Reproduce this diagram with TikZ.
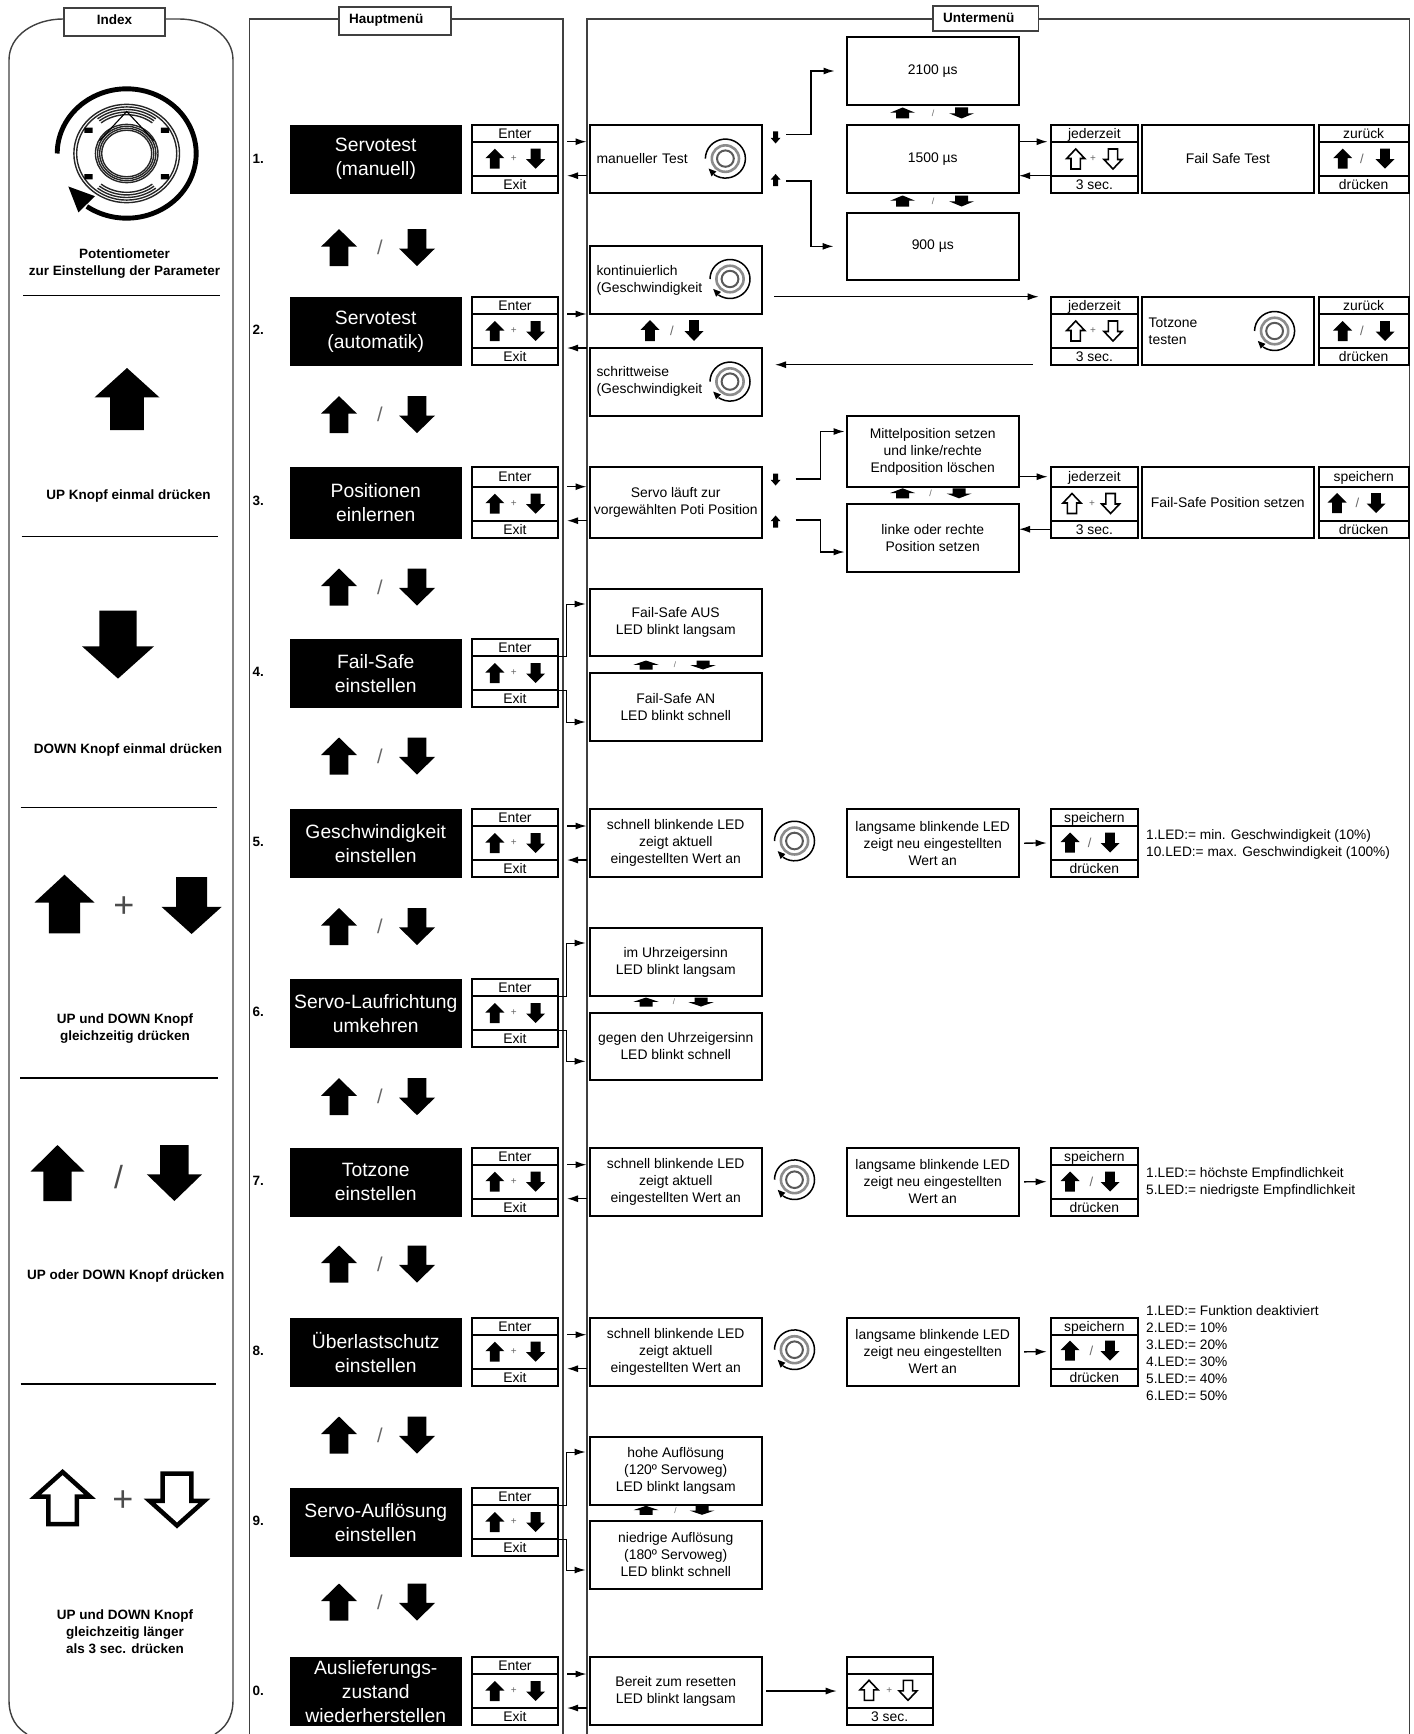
\documentclass[tikz,border=0pt]{standalone}
\usepackage{fontspec}
\setmainfont{Liberation Sans}
\usetikzlibrary{arrows.meta,positioning}

\tikzset{
	panel/.style={line width=1.4pt,draw=black!75},
	header/.style={draw=black!75,line width=1.4pt,fill=white,inner sep=0pt,outer sep=0pt,anchor=north west,font=\bfseries\fontsize{13.5}{16}\selectfont},
	idxtext/.style={align=center,inner sep=0pt,font=\bfseries\fontsize{13.5}{17}\selectfont},
	menubox/.style={fill=black,text=white,align=center,inner sep=0pt,outer sep=0pt,anchor=north west,minimum width=171.5pt,font=\fontsize{19.3}{24}\selectfont},
	numlabel/.style={anchor=west,inner sep=0pt,font=\bfseries\fontsize{13.5}{15}\selectfont},
	cell/.style={draw,line width=2pt,fill=white,inner sep=0pt,outer sep=0pt,anchor=north west,text height=10pt,text depth=0pt,font=\fontsize{13.9}{17}\selectfont},
	subbox/.style 2 args={draw,line width=2pt,fill=white,inner sep=0pt,outer sep=0pt,align=center,anchor=north west,minimum width=#1pt,minimum height=#2pt,font=\fontsize{13.9}{17}\selectfont},
	subleft/.style 2 args={subbox={#1}{#2},align=left,inner xsep=7pt,text width=#1pt-14pt},
	note/.style={anchor=west,align=left,inner sep=0pt,font=\fontsize{13.7}{17}\selectfont},
	conn/.style={line width=1.3pt,-{Latex[length=11pt,width=7pt]}},
	keyfill/.style={fill=black},
	keyline/.style={draw=black,fill=white,line width=1.6pt,line join=miter},
	sep/.style={line width=1.4pt},
}

\newcount\symno
\newcommand{\upkey}[5]{\path[#5,shift={(#1,#2)},xscale=#3,yscale=#4] (0,-1) -- (1,-.05) -- (.52,-.05) -- (.52,1) -- (-.52,1) -- (-.52,-.05) -- (-1,-.05) -- cycle;}
\newcommand{\downkey}[5]{\path[#5,shift={(#1,#2)},xscale=#3,yscale=#4] (0,1) -- (1,.05) -- (.52,.05) -- (.52,-1) -- (-.52,-1) -- (-.52,.05) -- (-1,.05) -- cycle;}
% x up, x sign, x down, y, half width, half height, style, sign, sign size
\newcommand{\keypair}[9]{%
	\upkey{#1}{#4}{#5}{#6}{#7}
	\downkey{#3}{#4}{#5}{#6}{#7}
	\global\advance\symno by 1
	\node[inner sep=0pt,text=black!60,font=\fontsize{#9}{#9}\selectfont] (sign\the\symno) at (#2,#4) {#8};
}
\newcommand{\potibig}[4]{%
	\begin{scope}[shift={(#1,#2)},xscale=#3,yscale=#4]
		\draw[line width=#3*.07pt] plot[smooth,domain=180:485,samples=50] ({cos(\x)},{sin(\x)});
		\fill (-.84,.51) -- (-.695,.91) -- (-.456,.66) -- cycle;
		\foreach \r in {.76,.72,.45,.42,.39,.36}{
			\draw[line width=#3*.02pt,black!85] (0,0) circle[radius=\r];
		}
		\foreach \r in {.68,.64,.60}{
			\draw[line width=#3*.02pt,black!85] plot[smooth,domain=232:308,samples=12] ({\r*cos(\x)},{\r*sin(\x)});
			\draw[line width=#3*.02pt,black!85] plot[smooth,domain=52:128,samples=12] ({\r*cos(\x)},{\r*sin(\x)});
		}
		\draw[line width=#3*.016pt] (-.39,-.2) -- (0,-.65) -- (.39,-.2);
		\fill (-.61,-.40) rectangle (-.49,-.32) (.49,-.40) rectangle (.61,-.32);
		\fill (-.61,.32) rectangle (-.49,.40) (.49,.32) rectangle (.61,.40);
	\end{scope}
}
\newcommand{\poti}[4]{%
	\begin{scope}[shift={(#1,#2)},xscale=#3,yscale=#4]
		\draw[line width=1.5pt] plot[smooth,domain=180:485,samples=30] ({cos(\x)},{sin(\x)});
		\fill (-.84,.51) -- (-.695,.91) -- (-.456,.66) -- cycle;
		\draw[line width=2.6pt,black!45] (0,0) circle[radius=.68];
		\draw[line width=2pt,black!65] (0,0) circle[radius=.42];
	\end{scope}
}
% [width] name, x, y, first cell height, top text, bottom text
\newcommand{\btnbox}[7][86]{%
	\node[cell,minimum width=#1pt,minimum height=#5pt] (#2t) at (#3,#4) {#6};
	\node[cell,minimum width=#1pt,minimum height=34pt] (#2m) at (#2t.south west) {};
	\node[cell,minimum width=#1pt,minimum height=17pt] (#2b) at (#2m.south west) {#7};
}
\newcommand{\linkpair}[3]{%
	\draw[conn] ([xshift=9pt]#1t.south east) -- ([xshift=-3pt]#2.west |- #1t.south east);
	\draw[conn] ([xshift=-3pt]#3.west |- #1m.south east) -- ([xshift=9pt]#1m.south east);
}
\newcommand{\elbow}[3]{%
	\draw[conn,line width=1pt] (#1t.south east) -- ++(8.5,0) |- ([xshift=-4pt,yshift=-15pt]#2.north west);
	\draw[conn,line width=1pt] (#1m.south east) -- ++(8.5,0) |- ([xshift=-4pt,yshift=19pt]#3.south west);
}

\begin{document}
\begin{tikzpicture}[x=1pt,y=-1pt]
\useasboundingbox (0,0) rectangle (1413,1734);

\draw[panel] (27,1734) .. controls (17,1728) and (9,1718) .. (9,1700) -- (9,60) .. controls (9,35) and (35,19) .. (63,19) -- (179,19) .. controls (207,19) and (233,35) .. (233,60) -- (233,1700) .. controls (233,1718) and (225,1728) .. (215,1734);
\draw[panel] (249.5,1734) -- (249.5,19) -- (563,19) -- (563,1734);
\draw[panel] (587,1734) -- (587,19) -- (1409.3,19) -- (1409.3,1734);

\node[header,minimum width=101pt,minimum height=28pt,align=center,text depth=5pt] (idxhead) at (64,8) {Index};
\node[header,minimum width=112pt,minimum height=28pt,align=left,inner xsep=10pt,text width=92pt,text depth=5pt] (mainhead) at (339,7) {Hauptmenü};
\node[header,minimum width=105.5pt,minimum height=25pt,align=left,inner xsep=10pt,text width=85.5pt,text depth=2pt] (subhead) at (933,6) {Untermenü};

\potibig{126.7}{153.5}{69.5}{64.7}
\node[idxtext] (idxpoti) at (124.5,264) {Potentiometer\\zur Einstellung der Parameter};
\draw[sep] (23,295.7) -- (219.5,295.7);
\upkey{127}{399}{32.5}{31}{keyfill}
\node[idxtext] (idxup) at (128.5,496) {UP Knopf einmal drücken};
\draw[sep] (21.5,536.3) -- (218,536.3);
\downkey{118}{644.6}{36}{34}{keyfill}
\node[idxtext] (idxdown) at (128,750) {DOWN Knopf einmal drücken};
\draw[sep] (20.5,807.3) -- (217,807.3);
\upkey{64.5}{904}{30}{29.3}{keyfill}
\downkey{191.6}{905.5}{30}{28.5}{keyfill}
\node[inner sep=0pt,text=black!70,font=\fontsize{36}{36}\selectfont] (idxplus) at (124,907) {+};
\node[idxtext] (idxboth) at (125,1029) {UP und DOWN Knopf\\gleichzeitig drücken};
\draw[sep] (20,1078) -- (218,1078);
\upkey{57.5}{1173}{27}{28}{keyfill}
\downkey{174.4}{1173}{27.5}{28}{keyfill}
\node[inner sep=0pt,text=black!70,font=\fontsize{32}{32}\selectfont] (idxslash) at (118.6,1177) {/};
\node[idxtext] (idxeither) at (125.7,1276) {UP oder DOWN Knopf drücken};
\draw[sep] (20.5,1384) -- (216,1384);
\upkey{62.6}{1498}{27.5}{26}{keyline,line width=4.5pt}
\downkey{177}{1499.5}{27.5}{26}{keyline,line width=4.5pt}
\node[inner sep=0pt,text=black!70,font=\fontsize{36}{36}\selectfont] (idxplusb) at (123,1501) {+};
\node[idxtext] (idxlong) at (125,1632) {UP und DOWN Knopf\\gleichzeitig länger\\als 3 sec. drücken};

\foreach \n/\ytop/\dd/\ynum/\txt in {
	1/124.7/17/158.5/{Servotest\\(manuell)},
	2/297/17/330/{Servotest\\(automatik)},
	3/466.7/20/501/{Positionen\\einlernen},
	4/638.7/17.3/672/{Fail-Safe\\einstellen},
	5/809/17/842/{Geschwindigkeit\\einstellen},
	6/978.7/17.3/1012/{Servo-Laufrichtung\\umkehren},
	7/1147.7/17/1181/{Totzone\\einstellen},
	8/1317.7/17/1351/{Überlastschutz\\einstellen},
	9/1488/17/1520.5/{Servo-Auflösung\\einstellen},
	0/1657/17/1690.5/{Auslieferungs-\\zustand\\wiederherstellen}}{
	\node[menubox,minimum height=52pt+\dd pt] (main\n) at (290,\ytop) {\txt};
	\node[numlabel] (num\n) at (252.5,\ynum) {\n.};
	\btnbox{btn\n}{472}{\ytop}{\dd}{Enter}{Exit}
	\keypair{494.8}{513.7}{535.6}{\ytop+\dd+17}{9.5}{10}{keyfill}{+}{10}
}

\foreach \y in {247.6,414.6,587,756,926.5,1096.7,1264,1435,1602}{
	\keypair{339}{380}{417}{\y}{18}{18.5}{keyfill}{/}{20}
}

\btnbox[87.3]{jed1}{1050.7}{124.7}{17}{jederzeit}{3 sec.}
\btnbox[90]{zur1}{1318.7}{124.7}{17}{zurück}{drücken}
\btnbox[87.3]{jed2}{1050.7}{296.7}{17}{jederzeit}{3 sec.}
\btnbox[90]{zur2}{1318.7}{296.7}{17}{zurück}{drücken}
\btnbox[87.3]{jed3}{1050.7}{466.7}{20}{jederzeit}{3 sec.}
\btnbox[90]{spe3}{1318.7}{466.7}{20}{speichern}{drücken}
\keypair{1075.7}{1093}{1113}{159}{9}{10}{keyline}{+}{10}
\keypair{1342.7}{1362}{1385}{158.7}{9.5}{10}{keyfill}{/}{13}
\keypair{1075.7}{1093}{1113}{331}{9}{10}{keyline}{+}{10}
\keypair{1342.7}{1362}{1385}{331}{9.5}{10}{keyfill}{/}{13}
\keypair{1072}{1092}{1110.6}{503.5}{9}{10}{keyline}{+}{10}
\keypair{1337}{1357.5}{1376}{503}{9.5}{10}{keyfill}{/}{13}

\node[subleft={172.5}{68.3}] (test) at (589.5,124.7) {manueller Test};
\poti{725.4}{158.6}{20}{19.5}
\node[subbox={172.5}{68.6}] (s2100) at (846.5,36.7) {2100 µs};
\node[subbox={172.5}{68.3}] (s1500) at (846.5,124.7) {1500 µs};
\node[subbox={172.5}{67.3}] (s900) at (846.5,212.7) {900 µs};
\keypair{902.6}{933}{961.6}{113}{12.5}{5.5}{keyfill}{/}{9}
\keypair{902.6}{933}{961.6}{201}{12.5}{5.5}{keyfill}{/}{9}
\node[subbox={172.3}{68.3}] (failtest) at (1141.7,124.7) {Fail Safe Test};
\downkey{775.6}{137.5}{5}{6}{keyfill}
\upkey{775.6}{180}{5}{6}{keyfill}

\node[subleft={172.5}{68.6}] (kont) at (589.5,245.7) {kontinuierlich\\(Geschwindigkeit};
\node[subleft={172.5}{68.3}] (schritt) at (589.5,347.7) {schrittweise\\(Geschwindigkeit};
\poti{730}{279}{20}{19.5}
\poti{730}{381.6}{20}{19.5}
\keypair{650}{672}{694}{330.5}{9.5}{10.5}{keyfill}{/}{13}
\node[subleft={172.3}{68.3}] (tot) at (1141.7,296.7) {Totzone\\testen};
\poti{1274.6}{331}{20}{19.5}

\node[subbox={172.5}{71.3}] (lauf) at (589.5,466.7) {Servo läuft zur\\vorgewählten Poti Position};
\node[subbox={172.5}{71.6}] (mitte) at (846.5,415.7) {Mittelposition setzen\\und linke/rechte\\Endposition löschen};
\node[subbox={172.5}{68}] (seite) at (846.5,504) {linke oder rechte\\Position setzen};
\keypair{902.6}{930.6}{959}{493.3}{12.5}{5}{keyfill}{/}{9}
\node[subbox={172.3}{71.3}] (failpos) at (1141.7,466.7) {Fail-Safe Position setzen};
\downkey{775.6}{479.5}{5}{6}{keyfill}
\upkey{775.6}{521.5}{5}{6}{keyfill}

\node[subbox={172.5}{67}] (fsaus) at (589.5,589) {Fail-Safe AUS\\LED blinkt langsam};
\node[subbox={172.5}{68}] (fsan) at (589.5,673) {Fail-Safe AN\\LED blinkt schnell};
\keypair{646}{675}{703}{665}{12.5}{4.5}{keyfill}{/}{8}

\node[subbox={172.5}{68}] (uhr) at (589.5,928) {im Uhrzeigersinn\\LED blinkt langsam};
\node[subbox={172.5}{67.6}] (gegen) at (589.5,1012.7) {gegen den Uhrzeigersinn\\LED blinkt schnell};
\keypair{646}{674}{701}{1002}{12.5}{4.5}{keyfill}{/}{8}

\node[subbox={172.5}{68}] (hoch) at (589.5,1437) {hohe Auflösung\\(120º Servoweg)\\LED blinkt langsam};
\node[subbox={172.5}{68}] (nied) at (589.5,1521) {niedrige Auflösung\\(180º Servoweg)\\LED blinkt schnell};
\keypair{646}{675.5}{702}{1510.3}{12.5}{4.5}{keyfill}{/}{8}

\foreach \n/\ytop/\ykey/\xsign in {5/809/842.5/1089.7,7/1147.7/1181.5/1091.5,8/1317.7/1350.7/1091.5}{
	\node[subbox={172.5}{68.3}] (flink\n) at (589.5,\ytop) {schnell blinkende LED\\zeigt aktuell\\eingestellten Wert an};
	\poti{794.5}{\ytop+32}{20}{19.8}
	\node[subbox={172.5}{68.3}] (slow\n) at (846.5,\ytop) {langsame blinkende LED\\zeigt neu eingestellten\\Wert an};
	\btnbox[87.3]{spe\n}{1050.7}{\ytop}{17}{speichern}{drücken}
	\keypair{1070}{\xsign}{1110}{\ykey}{9.5}{10}{keyfill}{/}{13}
	\draw[conn] ([xshift=5pt]slow\n.east) -- ([xshift=-4pt]spe\n m.west);
	\linkpair{btn\n}{flink\n}{flink\n}
}
\node[note] (note5) at (1146,844) {1.LED:= min. Geschwindigkeit (10\%)\\10.LED:= max. Geschwindigkeit (100\%)};
\node[note] (note7) at (1146,1182.8) {1.LED:= höchste Empfindlichkeit\\5.LED:= niedrigste Empfindlichkeit};
\node[note] (note8) at (1146,1353) {1.LED:= Funktion deaktiviert\\2.LED:= 10\%\\3.LED:= 20\%\\4.LED:= 30\%\\5.LED:= 40\%\\6.LED:= 50\%};

\node[subbox={172.5}{68}] (reset) at (589.5,1657) {Bereit zum resetten\\LED blinkt langsam};
\btnbox{fin}{846.7}{1657}{17}{}{3 sec.}
\keypair{869}{889.4}{908}{1690.3}{9}{10}{keyline}{+}{10}

\linkpair{btn1}{test}{test}
\linkpair{btn2}{kont}{schritt}
\linkpair{btn3}{lauf}{lauf}
\linkpair{btn0}{reset}{reset}
\elbow{btn4}{fsaus}{fsan}
\elbow{btn6}{uhr}{gegen}
\elbow{btn9}{hoch}{nied}

\draw[conn] ([xshift=24pt,yshift=-9.5pt]test.north east) -- ++(25,0) |- ([xshift=-12pt]s2100.west);
\draw[conn] ([xshift=24pt,yshift=12pt]test.south east) -- ++(25,0) |- ([xshift=-13pt]s900.west);
\draw[conn] (s1500.east |- jed1t.south) -- ([xshift=-3pt]jed1t.south west);
\draw[conn] (jed1m.south west) -- (s1500.east |- jed1m.south);
\draw[conn] ([xshift=12pt]kont.east |- jed2t.north west) -- ([xshift=-12pt]jed2t.north west);
\draw[conn] ([xshift=-18pt]jed2b.south west) -- ([xshift=13pt]schritt.east |- jed2b.south west);
\draw[conn] ([xshift=33.5pt,yshift=-12.3pt]lauf.north east) -- ++(25,0) |- ([xshift=-2pt,yshift=20pt]mitte.west);
\draw[conn] ([xshift=33.5pt,yshift=18pt]lauf.south east) -- ++(25,0) |- ([xshift=-2pt,yshift=-14pt]seite.west);
\draw[conn] (mitte.east |- jed3t.west) -- ([xshift=-3pt]jed3t.west);
\draw[conn] (jed3b.west) -- (seite.east |- jed3b.west);
\draw[conn] ([xshift=4pt]reset.east) -- ([xshift=-10pt]fint.south west |- reset.east);
\end{tikzpicture}
\end{document}
